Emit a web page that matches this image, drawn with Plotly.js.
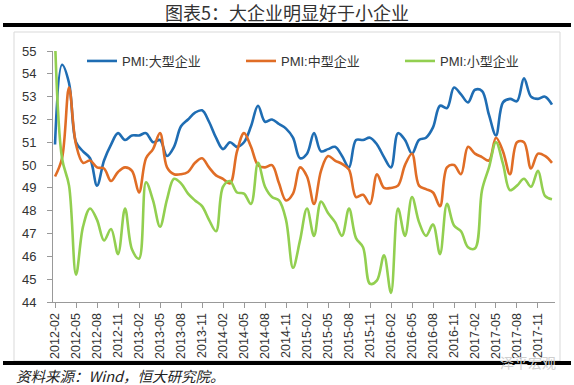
<!DOCTYPE html>
<html>
<head>
<meta charset="utf-8">
<script src="https://cdn.plot.ly/plotly-3.0.1.min.js"></script>
<style>html,body{margin:0;padding:0;background:#fff;}#chart{width:574px;height:385px;}</style>
</head>
<body>
<div id="chart"></div>
<script>
var months = ["2012-02","2012-03","2012-04","2012-05","2012-06","2012-07","2012-08","2012-09","2012-10","2012-11","2012-12",
"2013-01","2013-02","2013-03","2013-04","2013-05","2013-06","2013-07","2013-08","2013-09","2013-10","2013-11","2013-12",
"2014-01","2014-02","2014-03","2014-04","2014-05","2014-06","2014-07","2014-08","2014-09","2014-10","2014-11","2014-12",
"2015-01","2015-02","2015-03","2015-04","2015-05","2015-06","2015-07","2015-08","2015-09","2015-10","2015-11","2015-12",
"2016-01","2016-02","2016-03","2016-04","2016-05","2016-06","2016-07","2016-08","2016-09","2016-10","2016-11","2016-12",
"2017-01","2017-02","2017-03","2017-04","2017-05","2017-06","2017-07","2017-08","2017-09","2017-10","2017-11","2017-12",
"2018-01"];

var tickLabels = ["2012-02","2012-05","2012-08","2012-11","2013-02","2013-05","2013-08","2013-11",
"2014-02","2014-05","2014-08","2014-11","2015-02","2015-05","2015-08","2015-11",
"2016-02","2016-05","2016-08","2016-11","2017-02","2017-05","2017-08","2017-11"];

var large = [50.9,54.4,53.6,51.0,50.6,50.3,49.1,50.2,50.9,51.4,51.1,
51.3,51.3,51.4,51.0,51.1,50.4,50.8,51.7,52.0,52.3,52.4,51.9,
51.2,50.7,51.0,50.8,51.0,51.7,52.6,51.9,52.0,51.8,51.6,51.2,
50.3,50.5,51.4,50.6,50.7,50.8,50.4,49.9,51.1,51.1,51.2,50.9,
50.35,49.9,51.4,51.1,50.5,51.1,51.2,51.65,52.6,52.5,53.4,53.1,
52.75,53.3,53.25,52.2,51.3,52.75,52.9,52.8,53.8,53.0,52.9,53.0,
52.65];

var medium = [49.5,50.3,53.4,50.9,50.1,50.2,49.9,49.85,49.3,49.7,49.9,
49.75,48.8,50.3,50.7,51.4,49.9,49.6,49.6,49.7,50.1,50.3,49.9,
49.55,49.4,49.2,50.6,51.4,50.8,50.0,49.9,50.0,49.2,48.45,48.75,
49.9,49.5,48.3,49.75,50.4,50.2,50.05,49.8,48.6,48.7,48.3,49.6,
49.0,49.0,49.1,50.0,50.5,49.1,48.95,48.8,48.2,49.9,50.0,49.6,
50.8,50.5,50.35,50.2,51.2,50.6,49.6,51.0,51.0,49.85,50.5,50.4,
50.1];

var small = [55.5,50.3,49.1,45.2,47.3,48.1,47.6,46.7,47.2,46.1,48.1,
46.3,45.9,49.25,48.45,47.3,48.5,49.4,49.2,48.75,48.45,48.2,47.6,
47.1,49.05,49.3,48.8,48.75,48.3,50.1,49.05,48.6,48.45,47.6,45.5,
46.7,48.1,46.9,48.4,47.9,47.5,46.9,48.1,46.8,46.4,44.8,44.95,
46.05,44.4,48.1,46.9,48.6,47.5,46.9,47.4,46.1,48.3,47.35,47.1,
46.4,46.35,48.9,49.9,51.0,50.05,48.9,49.1,49.4,49.05,49.75,48.65,
48.5];

var seriesNames = ["PMI:大型企业","PMI:中型企业","PMI:小型企业"];
var colors = ["#1f6db3","#e06d26","#92cf50"];
var seriesData = [large, medium, small];

var traces = seriesData.map(function(vals, k){
  return {
    x: months, y: vals, type: "scatter", mode: "lines", name: seriesNames[k],
    line: {color: colors[k], width: 2.6, shape: "spline", smoothing: 1},
    hoverinfo: "skip"
  };
});

var L = 53, R = 555, T = 51, B = 302;
function px(x){ return (x - L) / (R - L); }
function py(y){ return (B - y) / (B - T); }

var layout = {
  width: 574, height: 385,
  margin: {l: L, r: 574 - R, t: T, b: 385 - B, pad: 0},
  paper_bgcolor: "#ffffff", plot_bgcolor: "#ffffff",
  font: {family: "Liberation Sans, Noto Sans CJK SC, sans-serif", size: 12.5, color: "#333333"},
  title: {
    text: "图表5：大企业明显好于小企业",
    x: 0.5, xref: "container", xanchor: "center",
    y: 1 - 14/385, yref: "container", yanchor: "middle",
    font: {family: "Noto Sans CJK SC, sans-serif", size: 18, color: "#333333"}
  },
  showlegend: true,
  legend: {
    orientation: "h", x: px(82), xanchor: "left", y: py(61), yanchor: "middle",
    entrywidth: 114, entrywidthmode: "pixels",
    font: {family: "Liberation Sans, Noto Sans CJK SC, sans-serif", size: 13, color: "#333333"},
    bgcolor: "rgba(0,0,0,0)", borderwidth: 0, itemclick: false
  },
  xaxis: {
    type: "category", range: [-0.29, 71.43], autorange: false,
    tickmode: "array", tickvals: tickLabels, ticktext: tickLabels,
    tickangle: -90, ticks: "outside", ticklen: 5, tickcolor: "#999999",
    showline: true, linecolor: "#999999", linewidth: 1,
    showgrid: false, zeroline: false,
    tickfont: {family: "Liberation Sans, sans-serif", size: 12.5, color: "#333333"}
  },
  yaxis: {
    range: [44, 55], autorange: false, dtick: 1, tick0: 44,
    ticks: "outside", ticklen: 5, tickcolor: "#999999",
    showline: true, linecolor: "#999999", linewidth: 1,
    showgrid: false, zeroline: false, ticklabelstandoff: 8,
    tickfont: {family: "Liberation Sans, sans-serif", size: 13, color: "#333333"}
  },
  shapes: [
    {type: "rect", xref: "paper", yref: "paper", x0: px(14), x1: px(560), y0: py(361), y1: py(32),
     line: {color: "#d9d9d9", width: 1}, fillcolor: "rgba(0,0,0,0)", layer: "below"},
    {type: "rect", xref: "paper", yref: "paper", x0: px(3), x1: px(571), y0: py(27), y1: py(23),
     line: {width: 0}, fillcolor: "#000000"},
    {type: "rect", xref: "paper", yref: "paper", x0: px(3), x1: px(571), y0: py(365), y1: py(361),
     line: {width: 0}, fillcolor: "#000000"}
  ],
  annotations: [
    {text: "资料来源：Wind，恒大研究院。", xref: "paper", yref: "paper", x: px(14), y: py(375),
     xanchor: "left", yanchor: "middle", showarrow: false,
     font: {family: "Noto Sans CJK SC, sans-serif", size: 14.5, color: "#222222", style: "italic"}},
    {text: "泽平宏观", xref: "paper", yref: "paper", x: px(528), y: py(362),
     xanchor: "center", yanchor: "middle", showarrow: false,
     font: {family: "Noto Sans CJK SC, sans-serif", size: 14, color: "#cfcfcf"}}
  ]
};

Plotly.newPlot("chart", traces, layout, {staticPlot: true, displayModeBar: false});
</script>
</body>
</html>
